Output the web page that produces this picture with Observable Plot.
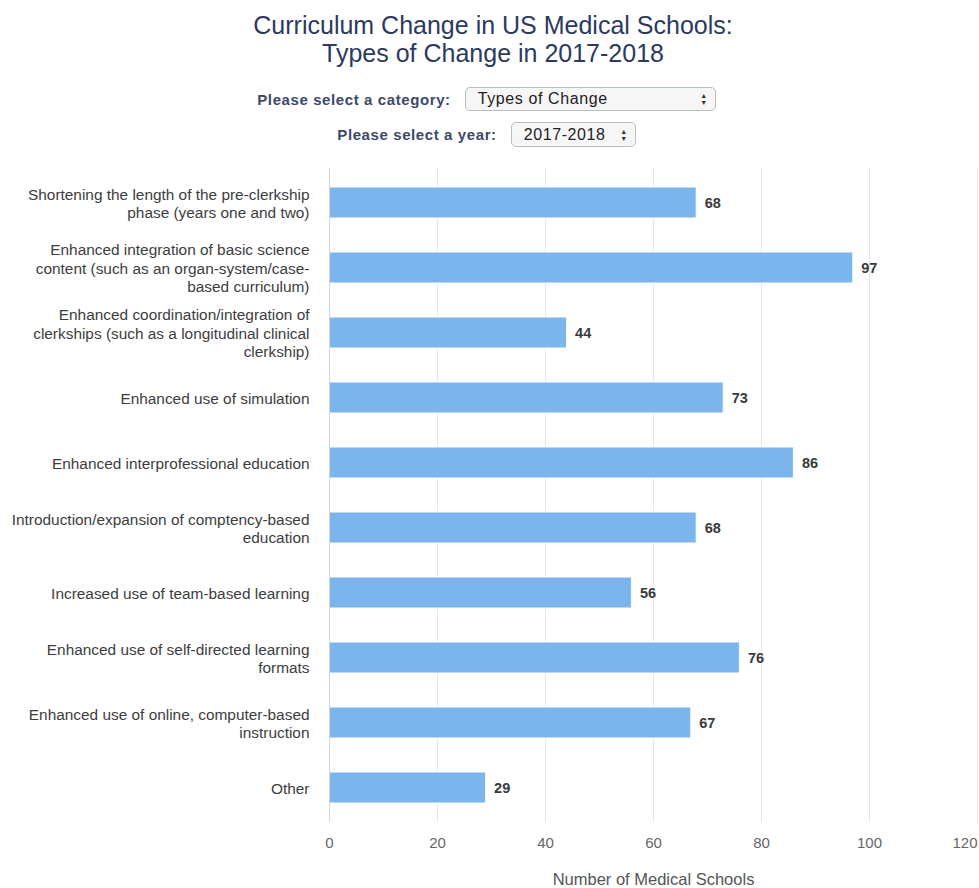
<!DOCTYPE html>
<html>
<head>
<meta charset="utf-8">
<script src="https://cdn.jsdelivr.net/npm/d3@7"></script>
<script src="https://cdn.jsdelivr.net/npm/@observablehq/plot@0.6"></script>
<style>
  body { margin: 0; background: #fff; font-family: "Liberation Sans", Arial, sans-serif; width: 979px; }
  #header { height: 160px; position: relative; }
  #title { position: absolute; top: 11px; left: 0; width: 979px; padding-left: 7px; box-sizing: border-box;
           text-align: center; font-size: 25px; line-height: 28px; color: #2b3a5e; }
  .row { position: absolute; left: 0; width: 979px; box-sizing: border-box; display: flex; justify-content: center;
         align-items: center; padding-right: 6px; }
  .lbl { font-size: 15px; font-weight: bold; color: #3b4a6b; letter-spacing: 0.6px; margin-right: 14px; white-space: nowrap; }
  .sel { box-sizing: border-box; border: 1px solid #b4c0ba; border-radius: 5px; background: #f6f6f6;
         display: flex; align-items: center; justify-content: space-between; font-size: 16px; color: #222;
         letter-spacing: 0.6px; padding: 0 7px 0 12px; white-space: nowrap; }
  .arr { display: flex; flex-direction: column; font-size: 7px; line-height: 7px; color: #333; }
  #chart svg { display: block; }
</style>
</head>
<body>
<div id="header">
  <div id="title"></div>
  <div class="row" id="row1" style="top:87px;height:24px;"></div>
  <div class="row" id="row2" style="top:122px;height:25px;"></div>
</div>
<div id="chart"></div>
<script>
const titleLines = ["Curriculum Change in US Medical Schools:", "Types of Change in 2017-2018"];
const selectLabels = ["Please select a category:", "Please select a year:"];
const selectValues = ["Types of Change", "2017-2018"];
const categories = [
  "Shortening the length of the pre-clerkship\nphase (years one and two)",
  "Enhanced integration of basic science\ncontent (such as an organ-system/case-\nbased curriculum)",
  "Enhanced coordination/integration of\nclerkships (such as a longitudinal clinical\nclerkship)",
  "Enhanced use of simulation",
  "Enhanced interprofessional education",
  "Introduction/expansion of comptency-based\neducation",
  "Increased use of team-based learning",
  "Enhanced use of self-directed learning\nformats",
  "Enhanced use of online, computer-based\ninstruction",
  "Other"
];
const values = [68, 97, 44, 73, 86, 68, 56, 76, 67, 29];
const xTicks = [0, 20, 40, 60, 80, 100, 120];
const xLabel = "Number of Medical Schools";

document.getElementById("title").innerHTML = titleLines.join("<br>");
const selWidths = [251, 125];
["row1", "row2"].forEach((id, i) => {
  const row = document.getElementById(id);
  const l = document.createElement("span");
  l.className = "lbl"; l.textContent = selectLabels[i];
  const s = document.createElement("div");
  s.className = "sel"; s.style.width = selWidths[i] + "px"; s.style.height = "100%";
  const t = document.createElement("span"); t.textContent = selectValues[i];
  const a = document.createElement("span"); a.className = "arr"; a.innerHTML = "<span>&#9650;</span><span>&#9660;</span>";
  s.appendChild(t); s.appendChild(a);
  row.appendChild(l); row.appendChild(s);
});

const data = categories.map((c, i) => ({category: c, value: values[i]}));
const lastTick = xTicks[xTicks.length - 1];

const chart = Plot.plot({
  width: 979,
  height: 728,
  marginLeft: 329,
  marginRight: 2,
  marginTop: 8,
  marginBottom: 66,
  style: {fontFamily: "'Liberation Sans', Arial, sans-serif", background: "#fff"},
  x: {domain: [0, lastTick], ticks: xTicks},
  y: {domain: categories, paddingInner: 0.52, paddingOuter: 0.26, align: 0.5},
  marks: [
    Plot.gridX(xTicks.filter(d => d > 0), {stroke: "#e6e6e6", strokeOpacity: 1, strokeWidth: 1}),
    Plot.barX(data, {x: "value", y: "category", fill: "#7cb5ec", stroke: "#fff", strokeWidth: 1}),
    Plot.ruleX([0], {stroke: "#ccd6eb", strokeWidth: 1}),
    Plot.text(data, {x: "value", y: "category", text: d => String(d.value), textAnchor: "start", dx: 8,
                     fontWeight: "bold", fontSize: 14.5, fill: "#3a3a3a"}),
    Plot.axisY({tickSize: 0, tickPadding: 20, fontSize: 15.4, lineHeight: 1.2, fill: "#3d3d3d", label: null}),
    Plot.axisX({ticks: xTicks.filter(d => d < lastTick), tickSize: 0, tickPadding: 15, fontSize: 15, fill: "#666", label: null}),
    Plot.axisX({ticks: [lastTick], tickSize: 0, tickPadding: 15, fontSize: 15, fill: "#666", label: null, textAnchor: "end"}),
    Plot.text([xLabel], {frameAnchor: "bottom", dy: 62, fontSize: 16.5, fill: "#555"})
  ]
});
document.getElementById("chart").appendChild(chart);
</script>
</body>
</html>
